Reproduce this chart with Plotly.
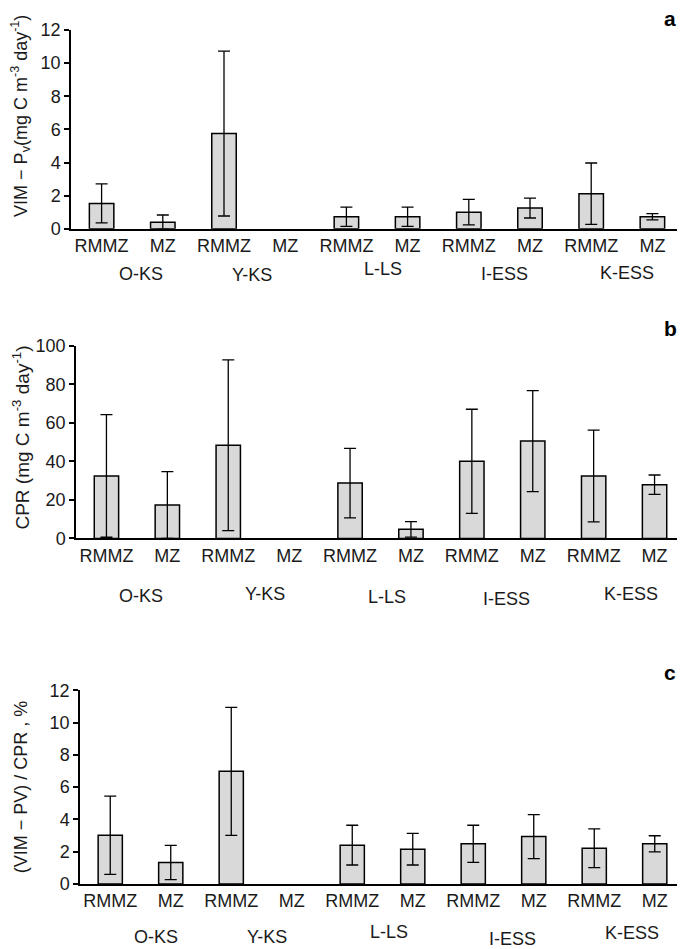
import plotly.graph_objects as go

# ---------------- data ----------------
zone_labels = ["RMMZ", "MZ", "RMMZ", "MZ", "RMMZ", "MZ", "RMMZ", "MZ", "RMMZ", "MZ"]
groups = ["O-KS", "Y-KS", "L-LS", "I-ESS", "K-ESS"]

vim_pv_mean = [1.53, 0.40, 5.75, None, 0.73, 0.73, 1.00, 1.25, 2.12, 0.73]
vim_pv_err = [1.18, 0.43, 4.98, None, 0.58, 0.58, 0.77, 0.60, 1.85, 0.19]

cpr_mean = [32.4, 17.3, 48.3, None, 28.7, 4.7, 40.0, 50.5, 32.4, 27.9]
cpr_err = [31.8, 17.3, 44.3, None, 18.0, 4.0, 27.0, 26.2, 23.8, 5.0]

ratio_mean = [3.02, 1.34, 6.98, None, 2.41, 2.16, 2.49, 2.94, 2.22, 2.49]
ratio_err = [2.42, 1.06, 3.96, None, 1.23, 0.98, 1.15, 1.36, 1.20, 0.50]

# ---------------- layout helpers ----------------
W, H = 677, 949
X_OFF = 8          # horizontal offset of the figure in the rendered page
Y_OFF, Y_SCALE = 17, 0.98   # measured vertical placement of the figure in the picture
FONT = "Liberation Sans, Arial, sans-serif"
xpos = list(range(len(zone_labels)))

def px_x(p):
    return (p - X_OFF) / W

def px_y(p):
    return 1 - ((p - Y_OFF) / Y_SCALE) / H

panels = [
    dict(mean=vim_pv_mean, err=vim_pv_err, yr=[0, 12], dt=2, xd=(71, 683), yd=(29, 228),
         title="VIM \u2212 P<sub>v</sub>(mg C m<sup>-3</sup> day<sup>-1</sup>)", tsize=18, tx=21, ty=115,
         letter="a", ly=17, gx=[0.65, 2.46, 4.59, 6.59, 8.58], gy=[273, 274, 268, 273, 272]),
    dict(mean=cpr_mean, err=cpr_err, yr=[0, 100], dt=20, xd=(76, 685), yd=(345, 538),
         title="CPR (mg C m<sup>-3</sup> day<sup>-1</sup>)", tsize=19, tx=21, ty=437,
         letter="b", ly=328, gx=[0.56, 2.61, 4.60, 6.57, 8.62], gy=[596, 594, 597, 599, 594]),
    dict(mean=ratio_mean, err=ratio_err, yr=[0, 12], dt=2, xd=(80, 685), yd=(690, 884),
         title="(VIM \u2212 PV) / CPR , %", tsize=18, tx=21, ty=787,
         letter="c", ly=672, gx=[0.76, 2.59, 4.60, 6.65, 8.62], gy=[937, 937, 932, 939, 933]),
]

fig = go.Figure()
annotations = []
layout_axes = {}

for i, p in enumerate(panels):
    n = "" if i == 0 else str(i + 1)
    xa, ya = "x" + n, "y" + n
    fig.add_trace(go.Bar(
        x=xpos, y=p["mean"], xaxis=xa, yaxis=ya,
        marker=dict(color="#d9d9d9", line=dict(color="black", width=1.5)),
        error_y=dict(type="data", array=p["err"], visible=True, color="black",
                     thickness=1.3, width=6),
        showlegend=False, hoverinfo="skip",
    ))
    layout_axes["xaxis" + n] = dict(
        domain=[max(0, px_x(p["xd"][0])), min(1, px_x(p["xd"][1]))], anchor=ya,
        range=[-0.5, len(zone_labels) - 0.5],
        tickmode="array", tickvals=xpos, ticktext=zone_labels,
        showline=True, linecolor="black", linewidth=1.5,
        ticks="", showgrid=False, zeroline=False,
        tickfont=dict(family=FONT, size=18, color="#1a1a1a"),
        fixedrange=True,
    )
    layout_axes["yaxis" + n] = dict(
        domain=[px_y(p["yd"][1]), px_y(p["yd"][0])], anchor=xa,
        range=p["yr"], dtick=p["dt"], tick0=0,
        showline=True, linecolor="black", linewidth=1.5,
        ticks="outside", ticklen=5, tickwidth=1.5, tickcolor="black",
        showgrid=False, zeroline=False,
        tickfont=dict(family=FONT, size=18, color="#1a1a1a"),
        fixedrange=True,
    )
    annotations.append(dict(
        text=p["title"], textangle=-90, xref="paper", yref="paper",
        x=px_x(p["tx"]), y=px_y(p["ty"]), xanchor="center", yanchor="middle",
        showarrow=False, font=dict(family=FONT, size=p["tsize"], color="#1a1a1a"),
    ))
    annotations.append(dict(
        text="<b>" + p["letter"] + "</b>", xref="paper", yref="paper",
        x=px_x(670), y=px_y(p["ly"]), xanchor="center", yanchor="middle",
        showarrow=False, font=dict(family=FONT, size=21, color="black"),
    ))
    for g, gxv, gyv in zip(groups, p["gx"], p["gy"]):
        annotations.append(dict(
            text=g, xref=xa, yref="paper", x=gxv, y=px_y(gyv),
            xanchor="center", yanchor="middle", showarrow=False,
            font=dict(family=FONT, size=18, color="#1a1a1a"),
        ))

fig.update_layout(
    width=W, height=H,
    margin=dict(l=0, r=0, t=0, b=0),
    paper_bgcolor="white", plot_bgcolor="white",
    bargap=0.6,
    annotations=annotations,
    **layout_axes,
)

fig.write_html("out.html")
